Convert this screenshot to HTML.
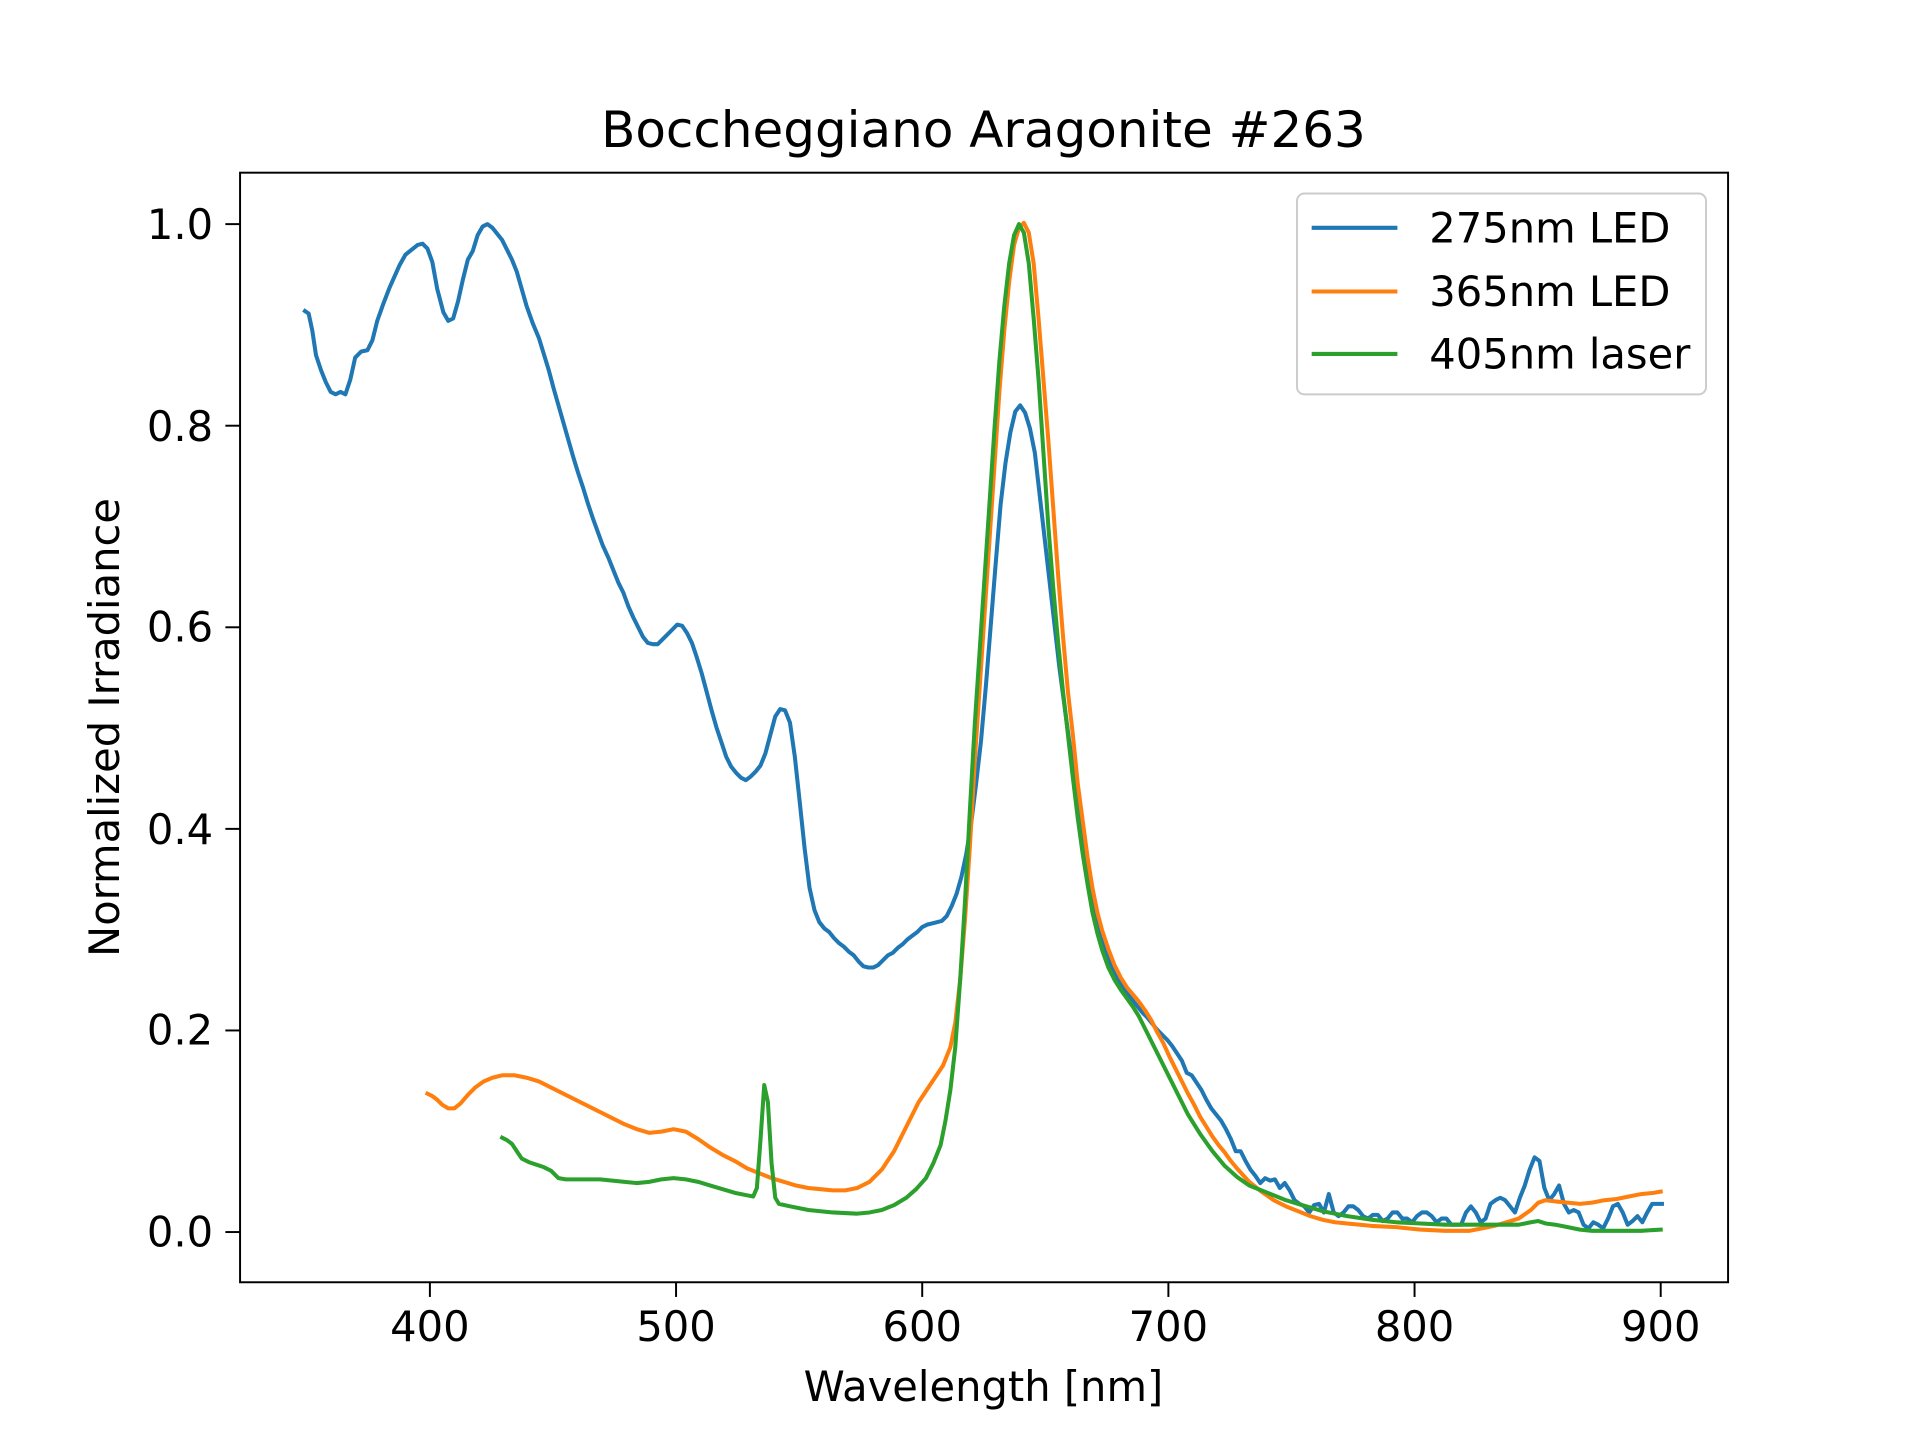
<!DOCTYPE html>
<html><head><meta charset="utf-8"><style>html,body{margin:0;padding:0;background:#fff}svg{display:block}</style></head>
<body>
<svg width="1920" height="1440" viewBox="0 0 1567.7 1175.8" xmlns="http://www.w3.org/2000/svg" font-family="'DejaVu Sans','Liberation Sans',sans-serif">
<rect width="1567.7" height="1175.8" fill="#fff"/>
<text x="803" y="120" font-size="40.8" text-anchor="middle">Boccheggiano Aragonite #263</text>
<g fill="none" stroke-width="3.3" stroke-linejoin="round" stroke-linecap="square">
<polyline stroke="#1f77b4" points="249,254 252,256 255,270 258,290 262,302 266,312 270,320 274,322 278,320 282,322 286,310 290,292 295,287 300,286 304,278 308,262 313,248 318,235 322,226 326,217 331,208 336,204 341,200 345,199 349,203 353,214 357,236 362,255 366,262 370,260 374,246 378,228 382,212 386,205 390,192 394,185 398,183 402,186 406,191 410,196 414,204 418,212 422,222 426,236 430,250 435,264 440,276 444,289 448,302 452,317 456,331 460,345 464,359 468,373 472,386 476,398 480,411 484,423 488,434 492,445 497,456 501,466 505,476 509,484 513,495 517,504 521,512 525,520 529,525 533,526 537,526 541,522 545,518 549,514 553,510 557,511 561,517 565,525 569,537 573,550 577,565 581,580 585,594 589,606 593,618 597,626 601,631 605,635 609,637 613,634 617,630 621,625 625,615 629,600 633,585 637,579 641,580 645,590 649,618 653,655 657,693 661,725 665,743 669,753 673,758 677,761 681,766 685,770 689,773 693,777 697,780 701,785 705,789 709,790 713,790 717,788 721,784 725,780 729,778 733,774 737,771 741,767 745,764 749,761 753,757 757,755 761,754 765,753 769,752 773,748 777,740 781,730 785,716 789,697 793,672 797,640 801,605 805,560 809,510 813,460 817,412 821,378 825,353 829,336 833,331 837,337 841,350 845,370 849,405 853,440 857,475 861,510 865,545 869,575 873,605 877,632 881,660 885,690 889,715 893,738 897,757 901,771 905,782 909,792 913,800 917,806 921,812 925,817 929,822 933,827 937,831 941,836 945,841 949,845 953,849 957,854 961,860 965,866 969,876 973,878 977,884 981,890 985,898 989,905 993,910 997,915 1001,922 1005,930 1009,940 1013,940 1017,948 1021,955 1025,960 1029,966 1033,962 1037,964 1041,963 1045,970 1049,966 1053,972 1057,980 1061,983 1065,985 1069,990 1073,984 1077,983 1081,990 1085,975 1089,990 1093,993 1097,990 1101,985 1105,985 1109,988 1113,993 1117,995 1121,992 1125,992 1129,997 1133,995 1137,990 1141,990 1145,995 1149,995 1153,998 1157,993 1161,990 1165,990 1169,993 1173,998 1177,995 1181,995 1185,1000 1189,1000 1193,1000 1197,990 1201,985 1205,990 1209,998 1213,995 1217,983 1221,980 1225,978 1229,980 1233,985 1237,990 1241,978 1245,968 1249,955 1253,945 1257,948 1261,970 1265,980 1269,975 1273,968 1277,983 1281,990 1285,988 1289,990 1293,1000 1297,1003 1301,998 1305,1000 1309,1003 1313,995 1317,985 1321,983 1325,990 1329,1000 1333,997 1337,993 1341,998 1345,990 1349,983 1353,983 1357,983"/>
<polyline stroke="#ff7f0e" points="349,893 353,895 357,898 361,902 366,905 371,905 376,901 382,894 388,888 395,883 402,880 410,878 420,878 430,880 440,883 450,888 460,893 470,898 480,903 490,908 500,913 510,918 520,922 530,925 540,924 550,922 560,924 570,930 580,937 590,943 600,948 610,954 620,958 630,962 640,965 650,968 660,970 670,971 680,972 690,972 700,970 710,965 720,955 730,940 740,920 750,900 760,885 770,870 776,855 780,835 784,800 788,750 792,690 796,620 800,560 804,500 808,440 812,380 816,320 820,270 824,230 828,200 832,186 836,182 840,190 844,215 848,260 852,310 856,360 860,415 864,470 868,520 872,565 876,600 880,640 884,670 888,700 892,725 896,745 900,760 905,775 910,788 915,798 920,806 925,812 930,818 935,825 940,833 945,843 950,852 955,863 960,873 965,883 970,893 975,902 980,912 985,920 990,928 995,935 1000,941 1005,948 1010,954 1020,965 1030,973 1040,980 1050,985 1060,989 1070,993 1080,996 1090,998 1100,999 1120,1001 1140,1002 1160,1004 1180,1005 1200,1005 1210,1003 1220,1001 1230,998 1240,995 1250,988 1256,982 1262,980 1270,981 1280,982 1290,983 1300,982 1310,980 1320,979 1330,977 1340,975 1350,974 1356,973"/>
<polyline stroke="#2ca02c" points="410,929 414,931 418,934 422,940 426,946 432,949 438,951 444,953 450,956 456,962 462,963 470,963 480,963 490,963 500,964 510,965 520,966 530,965 540,963 550,962 560,963 570,965 580,968 590,971 600,974 610,976 615,977 618,970 621,930 624,886 627,900 630,950 633,978 636,983 645,985 660,988 680,990 700,991 710,990 720,988 730,984 740,978 748,971 756,962 762,950 768,935 772,915 776,890 780,855 784,800 788,735 792,660 796,590 800,530 804,470 808,410 812,350 816,295 820,250 824,215 828,192 832,183 836,190 840,215 844,260 848,310 852,370 856,430 860,480 864,525 868,565 872,600 876,635 880,668 884,697 888,722 892,745 896,762 900,776 905,790 910,800 915,808 920,815 925,822 930,830 935,840 940,850 945,860 950,870 955,880 960,890 965,900 970,910 975,918 980,926 985,933 990,940 995,946 1000,952 1010,961 1020,968 1030,972 1040,976 1050,980 1060,983 1070,986 1080,989 1090,991 1100,993 1120,996 1140,998 1160,999 1180,1000 1200,1000 1220,1000 1240,1000 1250,998 1256,997 1262,999 1270,1000 1280,1002 1290,1004 1300,1005 1320,1005 1340,1005 1356,1004"/>
</g>
<rect x="196" y="141" width="1215" height="906" fill="none" stroke="#000" stroke-width="1.6"/>
<g stroke="#000" stroke-width="1.6">
<line x1="351" y1="1047" x2="351" y2="1059"/><line x1="552" y1="1047" x2="552" y2="1059"/><line x1="753" y1="1047" x2="753" y2="1059"/><line x1="954" y1="1047" x2="954" y2="1059"/><line x1="1155" y1="1047" x2="1155" y2="1059"/><line x1="1356" y1="1047" x2="1356" y2="1059"/>
<line x1="184" y1="183" x2="196" y2="183"/><line x1="184" y1="347.6" x2="196" y2="347.6"/><line x1="184" y1="512.2" x2="196" y2="512.2"/><line x1="184" y1="676.8" x2="196" y2="676.8"/><line x1="184" y1="841.4" x2="196" y2="841.4"/><line x1="184" y1="1006" x2="196" y2="1006"/>
</g>
<g font-size="34" text-anchor="middle">
<text x="351" y="1095">400</text><text x="552" y="1095">500</text><text x="753" y="1095">600</text><text x="954" y="1095">700</text><text x="1155" y="1095">800</text><text x="1356" y="1095">900</text>
</g>
<g font-size="34" text-anchor="end">
<text x="174" y="195">1.0</text><text x="174" y="360">0.8</text><text x="174" y="524">0.6</text><text x="174" y="689">0.4</text><text x="174" y="853">0.2</text><text x="174" y="1018">0.0</text>
</g>
<text x="803" y="1144" font-size="34" text-anchor="middle">Wavelength [nm]</text>
<text transform="translate(97,594) rotate(-90)" font-size="34" text-anchor="middle">Normalized Irradiance</text>
<rect x="1059" y="158" width="334" height="164" rx="6" fill="#fff" fill-opacity="0.8" stroke="#ccc" stroke-width="1.6"/>
<g stroke-width="3.3">
<line x1="1071" y1="186" x2="1141" y2="186" stroke="#1f77b4"/>
<line x1="1071" y1="238" x2="1141" y2="238" stroke="#ff7f0e"/>
<line x1="1071" y1="289" x2="1141" y2="289" stroke="#2ca02c"/>
</g>
<g font-size="34">
<text x="1167" y="198">275nm LED</text><text x="1167" y="250">365nm LED</text><text x="1167" y="301">405nm laser</text>
</g>
</svg>
</body></html>
